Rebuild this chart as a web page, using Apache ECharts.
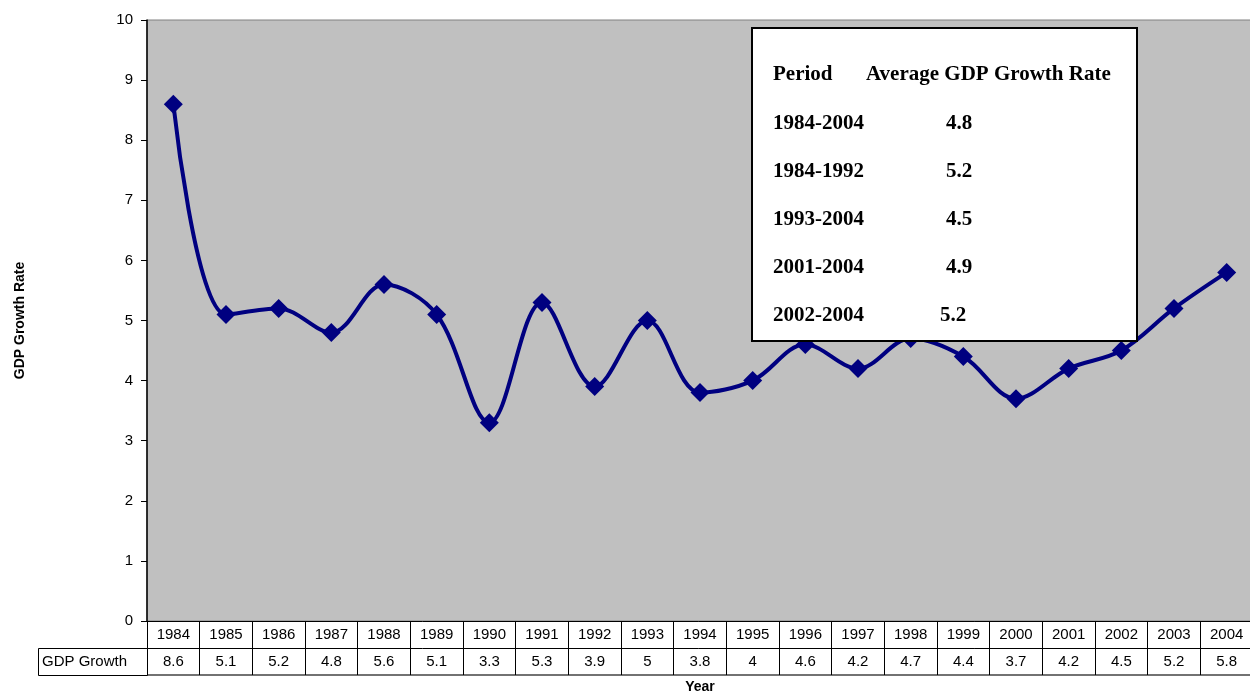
<!DOCTYPE html>
<html>
<head>
<meta charset="utf-8">
<script src="https://cdn.jsdelivr.net/npm/echarts@6/dist/echarts.min.js"></script>
<style>html,body{margin:0;padding:0;background:#fff}#c{width:1250px;height:696px}</style>
</head>
<body>
<div id="c"></div>
<script>
const years = ['1984','1985','1986','1987','1988','1989','1990','1991','1992','1993','1994','1995','1996','1997','1998','1999','2000','2001','2002','2003','2004'];
const gdpGrowth = [8.6,5.1,5.2,4.8,5.6,5.1,3.3,5.3,3.9,5,3.8,4,4.6,4.2,4.7,4.4,3.7,4.2,4.5,5.2,5.8];
const periods = ['1984-2004','1984-1992','1993-2004','2001-2004','2002-2004'];
const periodAverages = ['4.8','5.2','4.5','4.9','5.2'];
const yTicks = {min:0, max:10, interval:1};

const chart = echarts.init(document.getElementById('c'));
const serif = '"Liberation Serif", "Times New Roman", serif';
const sans = '"Liberation Sans", Arial, sans-serif';

function boxText(x, y, t) {
  return {type:'text', x:x, y:y, z:21,
    style:{text:t, fontSize:21, fontWeight:'bold', fontFamily:serif, fill:'#000', textVerticalAlign:'middle', verticalAlign:'middle'}};
}

const graphics = [
  {type:'rect', shape:{x:38.5, y:648.5, width:109, height:27}, style:{fill:'#fff', stroke:'#000', lineWidth:1}, z:10},
  {type:'text', x:42, y:662, z:11, style:{text:'GDP Growth', fontSize:15, fontFamily:sans, fill:'#000', textVerticalAlign:'middle', verticalAlign:'middle'}},
  {type:'rect', shape:{x:752, y:28, width:385, height:313}, style:{fill:'#fff', stroke:'#000', lineWidth:2}, z:20},
  boxText(773, 75, 'Period'),
  boxText(866, 75, 'Average GDP Growth Rate')
];
periods.forEach((p,i)=>{
  const y = 124 + i*48;
  graphics.push(boxText(773, y, p));
  graphics.push(boxText(i===4?940:946, y, periodAverages[i]));
});

chart.setOption({
  animation:false,
  grid:{left:147, top:20, right:-3, bottom:75, outerBoundsMode:'none', containLabel:false, show:true, backgroundColor:'#c0c0c0', borderColor:'#808080', borderWidth:1},
  xAxis:[
    {type:'category', data:years, position:'bottom', boundaryGap:true,
     axisLine:{show:true, lineStyle:{color:'#000', width:1}},
     axisTick:{show:true, length:54, inside:false, lineStyle:{color:'#000'}},
     axisLabel:{color:'#000', fontSize:15, fontFamily:sans, margin:6, interval:0},
     splitLine:{show:false}},
    {type:'category', data:gdpGrowth.map(String), position:'bottom', offset:27, boundaryGap:true,
     axisLine:{show:true, lineStyle:{color:'#000', width:1}},
     axisTick:{show:false},
     axisLabel:{color:'#000', fontSize:15, fontFamily:sans, margin:6, interval:0}},
    {type:'category', data:years, position:'bottom', offset:54, boundaryGap:true,
     axisLine:{show:true, lineStyle:{color:'#444', width:1.5}},
     axisTick:{show:false}, axisLabel:{show:false},
     name:'Year', nameLocation:'middle', nameGap:5,
     nameTextStyle:{fontWeight:'bold', fontSize:14, fontFamily:sans, color:'#000'}}
  ],
  yAxis:{type:'value', min:yTicks.min, max:yTicks.max, interval:yTicks.interval,
    axisLine:{show:true, lineStyle:{color:'#000', width:1.5}},
    axisTick:{show:true, length:6, lineStyle:{color:'#000'}},
    axisLabel:{color:'#000', fontSize:15, fontFamily:sans, margin:14},
    splitLine:{show:false},
    name:'GDP Growth Rate', nameLocation:'middle', nameGap:120, nameRotate:90,
    nameTextStyle:{fontWeight:'bold', fontSize:14, fontFamily:sans, color:'#000'}},
  series:[{type:'line', data:gdpGrowth, xAxisIndex:0, smooth:0.35,
    symbol:'diamond', symbolSize:19,
    itemStyle:{color:'#000080'}, lineStyle:{color:'#000080', width:4}, z:5}],
  graphic:graphics
});
</script>
</body>
</html>
